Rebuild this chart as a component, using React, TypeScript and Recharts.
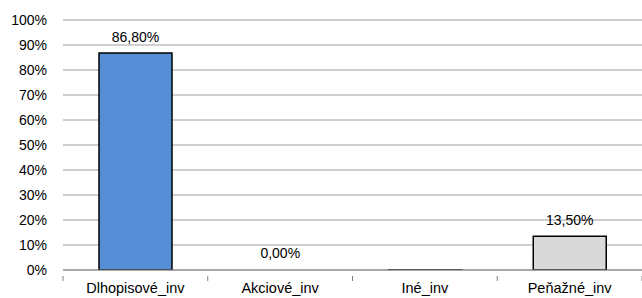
import { BarChart, Bar, XAxis, YAxis, CartesianGrid, LabelList, Cell } from "recharts";

const categories = ["Dlhopisové_inv", "Akciové_inv", "Iné_inv", "Peňažné_inv"];
const shares = [86.8, 0.0, -0.3, 13.5];
const barColors = ["#558ED5", "transparent", "#7F7F7F", "#D9D9D9"];
const barStrokes = ["#000", "none", "#000", "#000"];
const yTicks = [0, 10, 20, 30, 40, 50, 60, 70, 80, 90, 100];

const data = categories.map((name, i) => ({ name, value: shares[i] }));

const font = "'Liberation Sans', Arial, sans-serif";

function BoundaryTick(props: any) {
  const { x, y, payload, index, visibleTicksCount } = props;
  const half = payload && payload.offset ? payload.offset : 72;
  const top = y - 6;
  return (
    <g>
      <line x1={x - half} y1={top} x2={x - half} y2={top + 5} stroke="#808080" />
      {index === visibleTicksCount - 1 && (
        <line x1={x + half} y1={top} x2={x + half} y2={top + 5} stroke="#808080" />
      )}
      <text x={x} y={y + 1} dy="0.71em" textAnchor="middle" fill="#000" fontSize={14.5} fontFamily={font}>
        {payload.value}
      </text>
    </g>
  );
}

const fmt = (v: any) => {
  const n = Number(v);
  if (n < 0) return "";
  return n.toFixed(2).replace(".", ",") + "%";
};

export default function App() {
  return (
    <div style={{ width: 642, height: 298 }}>
      <style>{`body{margin:0}`}</style>
      <BarChart
        width={642}
        height={298}
        data={data}
        margin={{ top: 20, right: 0, left: 0, bottom: 0 }}
        barSize={73}
      >
        <CartesianGrid vertical={false} stroke="#A0A0A0" strokeWidth={1} />
        <YAxis
          width={63}
          domain={[0, 100]}
          ticks={yTicks}
          allowDataOverflow
          axisLine={false}
          tickLine={false}
          tickFormatter={(v) => `${v}%`}
          tick={{ fill: "#000", fontSize: 14, fontFamily: font }}
          tickMargin={10}
        />
        <XAxis
          dataKey="name"
          height={28}
          axisLine={{ stroke: "#808080" }}
          tickLine={false}
          tickMargin={6}
          interval={0}
          tick={<BoundaryTick />}
        />
        <Bar
          dataKey="value"
          stroke="#000"
          strokeWidth={1.5}
          minPointSize={(v: number) => (v === 0 ? 1 : 0)}
          isAnimationActive={false}
        >
          {data.map((d, i) => (
            <Cell key={d.name} fill={barColors[i]} stroke={barStrokes[i]} />
          ))}
          <LabelList
            dataKey="value"
            position="top"
            offset={11}
            formatter={fmt}
            fill="#000"
            fontSize={14}
            fontFamily={font}
          />
        </Bar>
      </BarChart>
    </div>
  );
}
